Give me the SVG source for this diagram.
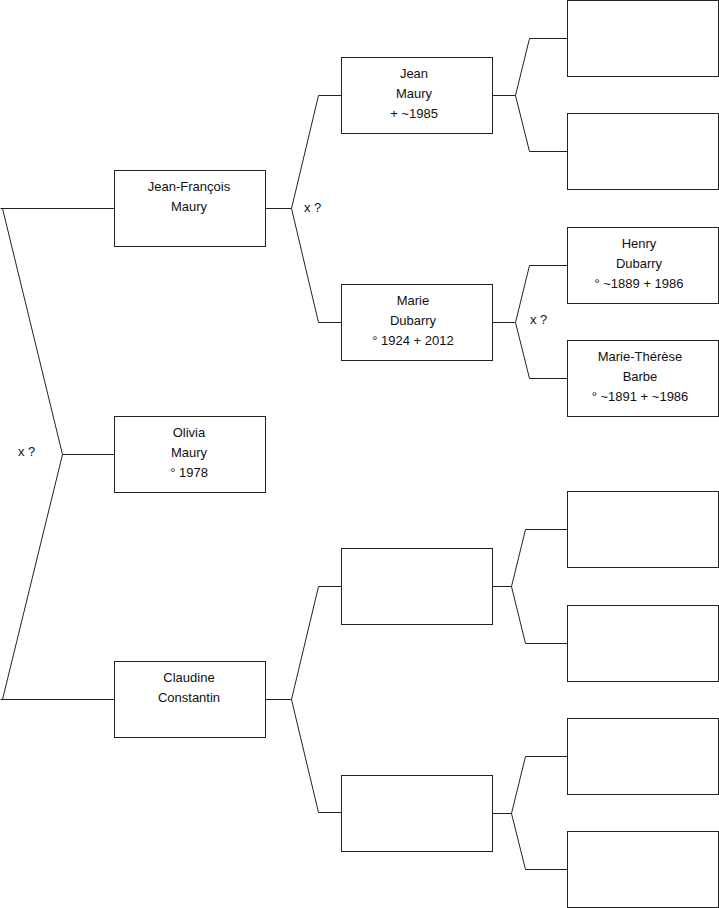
<svg xmlns="http://www.w3.org/2000/svg" width="719" height="908" viewBox="0 0 719 908">
<style>
rect{fill:#fff;stroke:#222;stroke-width:1}
.c{fill:none;stroke:#222;stroke-width:1}
text{font-family:"Liberation Sans",Arial,sans-serif;font-size:13px;fill:#111;text-anchor:middle}
.l{text-anchor:start}
</style>
<rect width="719" height="908" style="stroke:none"/>
<g id="connectors">
<path class="c" d="M0.5,208.5H114M2.5,208.5L62.5,454.5L2.5,699.5M62.5,454.5H114M0.5,699.5H114"/>
<path class="c" d="M265,208.5H291.5L318.5,95.5H341M291.5,208.5L318.5,322.5H341"/>
<path class="c" d="M265,699.5H291.5L318.5,586.5H341M291.5,699.5L318.5,812.5H341"/>
<path class="c" d="M492,95.5H515.5L529.5,38.5H567M515.5,95.5L529.5,151.5H567"/>
<path class="c" d="M492,322.5H515.5L529.5,265.5H567M515.5,322.5L529.5,378.5H567"/>
<path class="c" d="M492,586.5H511.5L525.5,529.5H567M511.5,586.5L525.5,643.5H567"/>
<path class="c" d="M492,813.5H511.5L525.5,756.5H567M511.5,813.5L525.5,869.5H567"/>
<text class="l" x="18" y="456">x ?</text>
<text class="l" x="304" y="212">x ?</text>
<text class="l" x="530" y="324">x ?</text>
</g>
<g id="jean-francois"><rect x="114.5" y="170.5" width="151" height="76"/><text x="189" y="191">Jean-François</text><text x="189" y="211">Maury</text></g>
<g id="olivia"><rect x="114.5" y="416.5" width="151" height="76"/><text x="189" y="437">Olivia</text><text x="189" y="457">Maury</text><text x="189" y="477">° 1978</text></g>
<g id="claudine"><rect x="114.5" y="661.5" width="151" height="76"/><text x="189" y="682">Claudine</text><text x="189" y="702">Constantin</text></g>
<g id="jean"><rect x="341.5" y="57.5" width="151" height="76"/><text x="414" y="78">Jean</text><text x="414" y="98">Maury</text><text x="414" y="118">+ ~1985</text></g>
<g id="marie"><rect x="341.5" y="284.5" width="151" height="76"/><text x="413" y="305">Marie</text><text x="413" y="325">Dubarry</text><text x="413" y="345">° 1924 + 2012</text></g>
<g id="empty-c2a"><rect x="341.5" y="548.5" width="151" height="76"/></g>
<g id="empty-c2b"><rect x="341.5" y="775.5" width="151" height="76"/></g>
<g id="empty-c3a"><rect x="567.5" y="0.5" width="151" height="76"/></g>
<g id="empty-c3b"><rect x="567.5" y="113.5" width="151" height="76"/></g>
<g id="henry"><rect x="567.5" y="227.5" width="151" height="76"/><text x="639" y="248">Henry</text><text x="639" y="268">Dubarry</text><text x="639" y="288">° ~1889 + 1986</text></g>
<g id="marie-therese"><rect x="567.5" y="340.5" width="151" height="76"/><text x="640" y="361">Marie-Thérèse</text><text x="640" y="381">Barbe</text><text x="640" y="401">° ~1891 + ~1986</text></g>
<g id="empty-c3e"><rect x="567.5" y="491.5" width="151" height="76"/></g>
<g id="empty-c3f"><rect x="567.5" y="605.5" width="151" height="76"/></g>
<g id="empty-c3g"><rect x="567.5" y="718.5" width="151" height="76"/></g>
<g id="empty-c3h"><rect x="567.5" y="831.5" width="151" height="76"/></g>
</svg>
